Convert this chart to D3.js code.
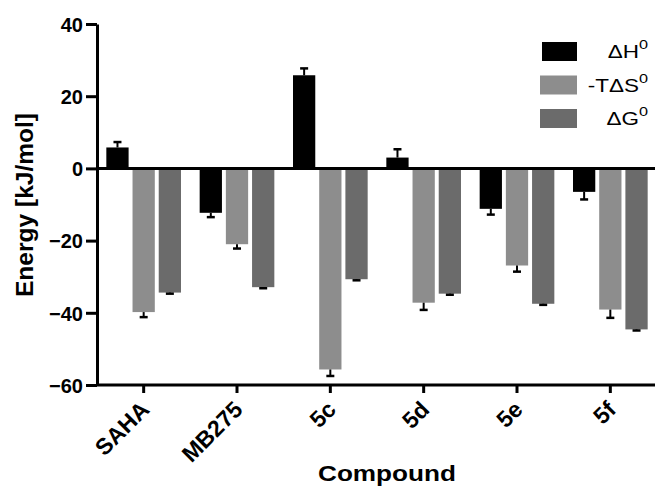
<!DOCTYPE html>
<html>
<head>
<meta charset="utf-8">
<script src="https://cdn.jsdelivr.net/npm/d3@7"></script>
<style>
  body { margin: 0; background: #fff; }
  svg { display: block; font-family: "Liberation Sans", Arial, sans-serif; }
  .axis path, .axis line { stroke: #000; stroke-width: 3; }
  .axis text { font-weight: bold; fill: #000; }
</style>
</head>
<body>
<div id="container"></div>
<script>
// data
const compounds = ["SAHA", "MB275", "5c", "5d", "5e", "5f"];
const seriesNames = ["dH", "TdS", "dG"];
const dH    = [5.8, -12.3, 25.8, 3.0, -11.2, -6.5];
const dHErr = [1.5, 1.2, 1.9, 2.3, 1.6, 2.1];
const TdS    = [-39.8, -21.0, -55.7, -37.2, -26.9, -39.1];
const TdSErr = [1.4, 1.2, 1.8, 2.0, 1.7, 2.3];
const dG    = [-34.4, -32.9, -30.7, -34.7, -37.5, -44.6];
const dGErr = [0.3, 0.3, 0.3, 0.3, 0.3, 0.3];
const yTicks = [-60, -40, -20, 0, 20, 40];
const legendLabels = [["\u0394H", "0"], ["-T\u0394S", "0"], ["\u0394G", "0"]];

const colors = { dH: "#000000", TdS: "#8d8d8d", dG: "#6b6b6b" };
const values = { dH: dH, TdS: TdS, dG: dG };
const errors = { dH: dHErr, TdS: TdSErr, dG: dGErr };

const W = 655, H = 487;
const mLeft = 97, mRight = 657, mTop = 24, mBottom = 385;

const svg = d3.select("#container").append("svg")
  .attr("width", W)
  .attr("height", H);

const x0 = d3.scaleBand()
  .domain(compounds)
  .range([mLeft, mRight])
  .paddingInner(0.2)
  .paddingOuter(0.1);

const x1 = d3.scaleBand()
  .domain(seriesNames)
  .range([0, x0.bandwidth()])
  .paddingInner(0.15)
  .paddingOuter(0);

const y = d3.scaleLinear()
  .domain([-60, 40])
  .range([mBottom, mTop]);

const rows = [];
compounds.forEach((c, i) => {
  seriesNames.forEach(s => {
    rows.push({ c: c, s: s, v: values[s][i], e: errors[s][i] });
  });
});

// bars
svg.append("g").selectAll("rect")
  .data(rows)
  .enter()
  .append("rect")
  .attr("x", d => x0(d.c) + x1(d.s))
  .attr("width", x1.bandwidth())
  .attr("y", d => y(Math.max(0, d.v)))
  .attr("height", d => Math.abs(y(d.v) - y(0)))
  .attr("fill", d => colors[d.s]);

// error bars (one sided, away from zero)
const eb = svg.append("g").selectAll("g")
  .data(rows)
  .enter()
  .append("g");

const cx = d => x0(d.c) + x1(d.s) + x1.bandwidth() / 2;
const tip = d => y(d.v + (d.v >= 0 ? d.e : -d.e));

eb.append("line")
  .attr("x1", cx).attr("x2", cx)
  .attr("y1", d => y(d.v)).attr("y2", tip)
  .attr("stroke", "#000").attr("stroke-width", 2);

eb.append("line")
  .attr("x1", d => cx(d) - 4).attr("x2", d => cx(d) + 4)
  .attr("y1", tip).attr("y2", tip)
  .attr("stroke", "#000").attr("stroke-width", 2.5);

// zero line
svg.append("line")
  .attr("x1", mLeft).attr("x2", W)
  .attr("y1", y(0)).attr("y2", y(0))
  .attr("stroke", "#000").attr("stroke-width", 3);

// y axis
svg.append("g")
  .attr("class", "axis")
  .attr("transform", `translate(${mLeft},0)`)
  .call(d3.axisLeft(y).tickValues(yTicks).tickSize(11).tickSizeOuter(0).tickPadding(3))
  .selectAll("text")
  .style("font-size", "20px")
  .attr("dy", "0.36em");

// x axis
const xa = svg.append("g")
  .attr("class", "axis")
  .attr("transform", `translate(0,${mBottom})`)
  .call(d3.axisBottom(x0).tickSize(8).tickSizeOuter(0));
xa.select(".domain").attr("d", `M${mLeft},0H${W}`);
xa.selectAll("text")
  .style("font-size", "23px")
  .attr("text-anchor", "end")
  .attr("x", 0)
  .attr("y", 0)
  .attr("dy", 0)
  .attr("transform", "translate(7,26) rotate(-45)");

// axis titles
svg.append("text")
  .attr("transform", "translate(33,205) rotate(-90)")
  .attr("text-anchor", "middle")
  .attr("textLength", 184)
  .attr("lengthAdjust", "spacingAndGlyphs")
  .style("font-size", "24px")
  .style("font-weight", "bold")
  .text("Energy [kJ/mol]");

svg.append("text")
  .attr("x", 387)
  .attr("y", 481)
  .attr("text-anchor", "middle")
  .attr("textLength", 138)
  .attr("lengthAdjust", "spacingAndGlyphs")
  .style("font-size", "22px")
  .style("font-weight", "bold")
  .text("Compound");

// legend
const lg = svg.append("g").selectAll("g")
  .data(seriesNames)
  .enter()
  .append("g")
  .attr("transform", (d, i) => `translate(0,${42 + i * 33.5})`);

lg.append("rect")
  .attr("x", (d, i) => i === 0 ? 542 : 540)
  .attr("width", (d, i) => i === 0 ? 35 : 37)
  .attr("height", 19)
  .attr("fill", d => colors[d]);

const lt = lg.append("text")
  .attr("transform", "translate(648,16) scale(1.25,1)")
  .attr("text-anchor", "end")
  .style("font-size", "18px");
lt.append("tspan").text((d, i) => legendLabels[i][0]);
lt.append("tspan")
  .attr("dy", -9)
  .style("font-size", "13px")
  .text((d, i) => legendLabels[i][1]);
</script>
</body>
</html>
